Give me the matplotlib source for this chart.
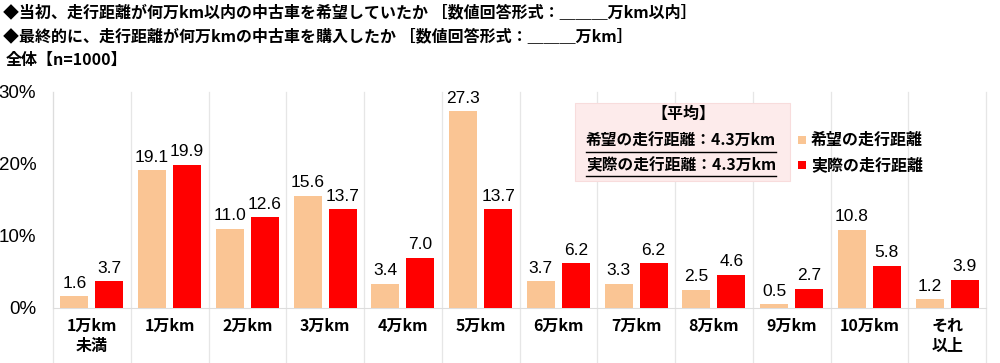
import matplotlib
matplotlib.use("Agg")
import matplotlib.pyplot as plt
import numpy as np
from matplotlib.patches import Rectangle

plt.rcParams['font.family'] = ['Noto Sans CJK JP', 'DejaVu Sans']

categories = ["1万km\n未満", "1万km", "2万km", "3万km", "4万km", "5万km", "6万km",
              "7万km", "8万km", "9万km", "10万km", "それ\n以上"]
hope = [1.6, 19.1, 11.0, 15.6, 3.4, 27.3, 3.7, 3.3, 2.5, 0.5, 10.8, 1.2]
actual = [3.7, 19.9, 12.6, 13.7, 7.0, 13.7, 6.2, 6.2, 4.6, 2.7, 5.8, 3.9]
series_names = ["希望の走行距離", "実際の走行距離"]
yticks = [0, 10, 20, 30]

c_hope = "#FAC594"
c_act = "#FF0000"

W, H = 1000, 363
fig = plt.figure(figsize=(W/100, H/100), dpi=100)
ax = fig.add_axes([53/W, (H-308)/H, (986-53)/W, (308-92)/H])

n = len(categories)
x = np.arange(n)
bw = 0.36
off = 0.225
ax.bar(x - off, hope, bw, color=c_hope, zorder=3)
ax.bar(x + off, actual, bw, color=c_act, zorder=3)

numfont = dict(family=['Liberation Sans', 'DejaVu Sans'], fontsize=12.5)
for xi, v in zip(x, hope):
    ax.text(xi - off, v + 0.8, f"{v:.1f}", ha='center', va='bottom', **numfont)
for xi, v in zip(x, actual):
    ax.text(xi + off, v + 0.8, f"{v:.1f}", ha='center', va='bottom', **numfont)

ax.set_xlim(-0.5, n - 0.5)
ax.set_ylim(0, 30)
ax.set_yticks(yticks)
ax.set_yticklabels([f"{t}%" for t in yticks], family=['Liberation Sans', 'DejaVu Sans'], fontsize=13.5)
ax.tick_params(axis='y', length=0, pad=12)
ax.set_xticks(x)
ax.set_xticklabels(categories, fontsize=11.5, fontweight='bold', linespacing=1.35, va='top')
ax.tick_params(axis='x', length=0, pad=7)
for s in ['top', 'right']:
    ax.spines[s].set_visible(False)
ax.spines['left'].set_color('#DDDDDD')
ax.spines['bottom'].set_color('#DDDDDD')

# category separators extending into label area
for b in np.arange(-0.5, n + 0.5, 1.0):
    ax.plot([b, b], [-8.5, 30], color='#E6E6E6', lw=0.9, clip_on=False, zorder=1)

# titles
fig.text(3/W, 1 - 13/H, "◆当初、走行距離が何万km以内の中古車を希望していたか ［数値回答形式：＿＿＿万km以内］",
         fontsize=11.5, fontweight='bold', va='center', ha='left')
fig.text(3/W, 1 - 37/H, "◆最終的に、走行距離が何万kmの中古車を購入したか ［数値回答形式：＿＿＿万km］",
         fontsize=11.5, fontweight='bold', va='center', ha='left')
fig.text(6/W, 1 - 60/H, "全体【n=1000】", fontsize=11.5, fontweight='bold', va='center', ha='left')

# average box
fig.patches.append(Rectangle((575/W, 1 - 181/H), 215/W, 78/H, transform=fig.transFigure,
                             facecolor='#FDEBEB', edgecolor='#F8DCDC', lw=0.8, zorder=5))
fig.text(683/W, 1 - 114/H, "【平均】", fontsize=11.5, fontweight='bold', ha='center', va='center', zorder=6)
t1 = fig.text(586/W, 1 - 141/H, "希望の走行距離：4.3万km", fontsize=11.3, fontweight='bold', ha='left', va='center', zorder=6)
t2 = fig.text(586/W, 1 - 165/H, "実際の走行距離：4.3万km", fontsize=11.3, fontweight='bold', ha='left', va='center', zorder=6)
fig.canvas.draw()
r = fig.canvas.get_renderer()
for t, yy in [(t1, 152), (t2, 176)]:
    bb = t.get_window_extent(r)
    fig.lines.append(plt.Line2D([bb.x0/W, bb.x1/W], [1 - yy/H, 1 - yy/H], transform=fig.transFigure,
                                color='black', lw=1.0, zorder=6))

# legend
for name, col, yy in [(series_names[0], c_hope, 140), (series_names[1], c_act, 165)]:
    fig.patches.append(Rectangle((798/W, 1 - (yy + 4)/H), 8/W, 8/H, transform=fig.transFigure,
                                 facecolor=col, edgecolor='none', zorder=6))
    fig.text(811/W, 1 - yy/H, name, fontsize=11.5, fontweight='bold', ha='left', va='center', zorder=6)

fig.savefig("out.png", dpi=100)
